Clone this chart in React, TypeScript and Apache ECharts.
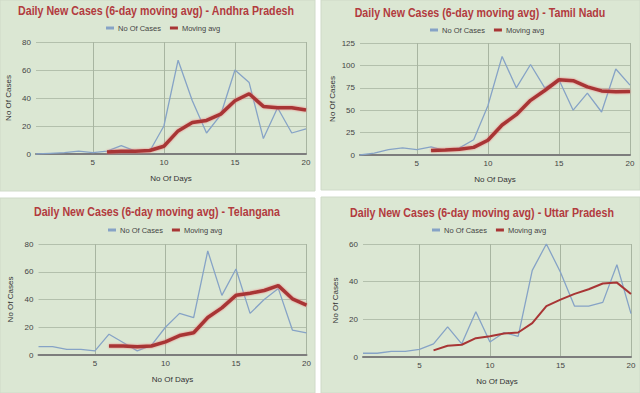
import React, { useEffect, useRef } from "react";
import * as echarts from "echarts";

const DAYS = [1, 2, 3, 4, 5, 6, 7, 8, 9, 10, 11, 12, 13, 14, 15, 16, 17, 18, 19, 20];
const X_TICKS = [5, 10, 15, 20];
const SERIES_NAMES = ["No Of Cases", "Moving avg"];
const X_NAME = "No Of Days";
const Y_NAME = "No Of Cases";
const TITLES = [
  "Daily New Cases (6-day moving avg) - Andhra Pradesh",
  "Daily New Cases (6-day moving avg) - Tamil Nadu",
  "Daily New Cases (6-day moving avg) - Telangana",
  "Daily New Cases (6-day moving avg) - Uttar Pradesh",
];

const AP_CASES = [0, 0.5, 1, 2, 1, 2, 6, 2, 2, 20, 67, 38, 15, 28, 60, 51, 11, 33, 15, 18];
const AP_AVG = [null, null, null, null, null, 1.5, 2, 2, 2.5, 5.5, 16.5, 22.5, 24, 28.5, 38, 43, 34, 33, 33, 31.5];

const TN_CASES = [0, 2, 6, 8, 6, 9, 5, 8, 17, 55, 110, 75, 101, 75, 84, 50, 69, 48, 96, 78];
const TN_AVG = [null, null, null, null, null, 5, 5.5, 6.5, 8.5, 16.5, 33.5, 45, 61, 72, 84, 83, 76, 71.5, 70.5, 71];

const TG_CASES = [6, 6, 4, 4, 3, 15, 9, 3, 7, 20, 30, 27, 75, 43, 62, 30, 40, 48, 18, 16];
const TG_AVG = [null, null, null, null, null, 6.5, 6.5, 6, 6.5, 9.5, 14, 16, 27, 34, 43, 44.5, 46.5, 50, 40.5, 36];

const UP_CASES = [2, 2, 3, 3, 4, 7, 16, 7, 24, 8, 13, 11, 46, 60, 45, 27, 27, 29, 49, 23];
const UP_AVG = [null, null, null, null, null, 3.5, 6, 6.5, 10, 11, 12.5, 13, 18, 27, 30.5, 33.5, 36, 39, 39.5, 33.5];

const Y_MAX = [80, 125, 80, 60];
const Y_STEP = [20, 25, 20, 20];

const CASES = [AP_CASES, TN_CASES, TG_CASES, UP_CASES];
const AVGS = [AP_AVG, TN_AVG, TG_AVG, UP_AVG];

// layout (pixels)
const LAYOUT = [
  { bg: [0, 0, 315, 191], grid: [36, 42, 270, 112], titleX: 156, titleY: 11, legendX: 106, legendY: 24, avgW: 3.5 },
  { bg: [321, 0, 319, 190], grid: [360, 43, 270, 112], titleX: 480, titleY: 13, legendX: 430, legendY: 26, avgW: 3.5 },
  { bg: [0, 198, 315, 195], grid: [38.5, 244, 268, 111], titleX: 157, titleY: 212, legendX: 108, legendY: 226, avgW: 3.5 },
  { bg: [321, 197, 319, 196], grid: [363, 244, 268, 113], titleX: 482, titleY: 213, legendX: 432, legendY: 226, avgW: 2 },
];

const BG = "#dbe7d3";
const GRID_COLOR = "#b3c0ac";
const BLUE = "#86a3c6";
const RED = "#a83535";
const TITLE_COLOR = "#b23b3e";
const FONT = "Liberation Sans, Arial, sans-serif";

export default function App() {
  const ref = useRef<HTMLDivElement>(null);
  useEffect(() => {
    if (!ref.current) return;
    const chart = echarts.init(ref.current, undefined, { renderer: "svg" });
    const legend: any[] = [];
    const grid: any[] = [];
    const xAxis: any[] = [];
    const yAxis: any[] = [];
    const series: any[] = [];
    const graphic: any[] = [];
    LAYOUT.forEach((L, i) => {
      graphic.push({
        type: "rect",
        silent: true,
        z: -10,
        shape: { x: L.bg[0], y: L.bg[1], width: L.bg[2], height: L.bg[3] },
        style: { fill: BG, stroke: "#cfdac8", lineWidth: 1 },
      });
      graphic.push({
        type: "text",
        silent: true,
        x: L.titleX,
        y: L.titleY,
        scaleX: 0.82,
        style: {
          text: TITLES[i],
          fill: TITLE_COLOR,
          font: `bold 13px ${FONT}`,
          textAlign: "center",
          textVerticalAlign: "middle",
        },
      });
      legend.push({
        data: SERIES_NAMES,
        left: L.legendX,
        top: L.legendY,
        padding: 0,
        itemWidth: 8,
        itemHeight: 3,
        itemGap: 9,
        icon: "rect",
        textStyle: { fontSize: 7.5, color: "#444", fontFamily: FONT, padding: [0, 0, 0, -1] },
      });
      grid.push({ left: L.grid[0], top: L.grid[1], width: L.grid[2], height: L.grid[3] });
      xAxis.push({
        type: "value",
        gridIndex: i,
        min: 1,
        max: 20,
        name: X_NAME,
        nameLocation: "middle",
        nameGap: 20,
        nameTextStyle: { fontSize: 8, color: "#333", fontFamily: FONT },
        axisLine: { show: true, lineStyle: { color: "#7d7d7d", width: 2 } },
        axisTick: { show: false, customValues: X_TICKS },
        axisLabel: { customValues: X_TICKS, fontSize: 8, color: "#444", margin: 4, fontFamily: FONT },
        splitLine: { show: true, lineStyle: { color: "#a8b5a1", width: 1 } },
      });
      yAxis.push({
        type: "value",
        gridIndex: i,
        min: 0,
        max: Y_MAX[i],
        interval: Y_STEP[i],
        name: Y_NAME,
        nameLocation: "middle",
        nameGap: 24,
        nameTextStyle: { fontSize: 8, color: "#333", fontFamily: FONT },
        axisLine: { show: false },
        axisTick: { show: false },
        axisLabel: { fontSize: 8, color: "#444", margin: 5, fontFamily: FONT },
        splitLine: { show: true, lineStyle: { color: GRID_COLOR, width: 1 } },
      });
      series.push({
        name: SERIES_NAMES[0],
        type: "line",
        xAxisIndex: i,
        yAxisIndex: i,
        symbol: "none",
        color: BLUE,
        lineStyle: { color: BLUE, width: 1.3 },
        data: DAYS.map((d, k) => [d, CASES[i][k]]),
      });
      series.push({
        name: SERIES_NAMES[1],
        type: "line",
        xAxisIndex: i,
        yAxisIndex: i,
        symbol: "none",
        color: RED,
        z: 3,
        lineStyle: {
          color: RED,
          width: L.avgW,
          shadowColor: L.avgW > 3 ? "rgba(235,120,120,0.9)" : "rgba(0,0,0,0)",
          shadowBlur: L.avgW > 3 ? 2 : 0,
        },
        data: DAYS.map((d, k) => [d, AVGS[i][k]]),
      });
    });
    chart.setOption({
      animation: false,
      backgroundColor: "#ffffff",
      textStyle: { fontFamily: FONT },
      graphic,
      legend,
      grid,
      xAxis,
      yAxis,
      series,
    });
    return () => chart.dispose();
  }, []);
  return (
    <div
      ref={ref}
      style={{ position: "absolute", left: 0, top: 0, width: 640, height: 393 }}
    />
  );
}
